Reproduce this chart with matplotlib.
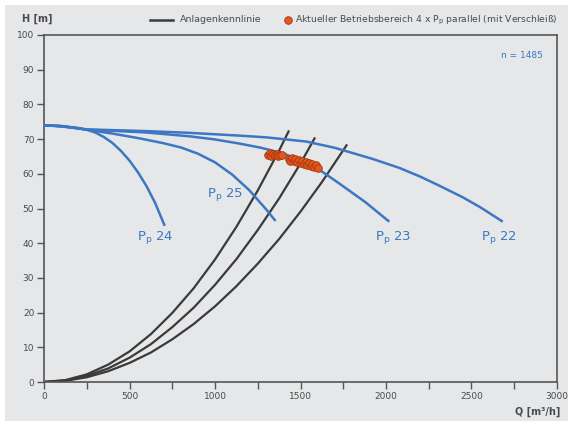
import matplotlib
matplotlib.use("Agg")
import matplotlib.pyplot as plt
from matplotlib.patches import Rectangle
from matplotlib.lines import Line2D

# ---- data ----
# system curves (Anlagenkennlinie)
sys_q = [0, 125, 250, 375, 500, 625, 750, 875, 1000, 1125, 1250, 1375, 1500, 1625, 1769]
sys1_h = [0, 0.55, 2.2, 5.0, 8.8, 13.8, 19.9, 27.0, 35.3, 44.7, 55.2, 66.7]
sys1_end = (1430, 72.2)
sys2_h = [0, 0.44, 1.75, 3.9, 7.0, 10.9, 15.8, 21.4, 28.0, 35.4, 43.8, 52.9, 63.0]
sys2_end = (1582, 70.2)
sys3_h = [0, 0.34, 1.36, 3.1, 5.5, 8.5, 12.3, 16.7, 21.8, 27.6, 34.1, 41.2, 49.1, 57.6, 68.2]

# pump curves
pp24_q = [0, 100, 200, 250, 300, 350, 400, 450, 500, 550, 600, 650, 706]
pp24_h = [74.0, 73.8, 73.2, 72.7, 71.9, 70.6, 68.9, 66.6, 63.8, 60.4, 56.4, 51.6, 45.0]
pp25_q = [0, 100, 200, 250, 400, 560, 700, 800, 900, 1000, 1100, 1200, 1300, 1354]
pp25_h = [74.0, 73.7, 73.1, 72.7, 71.6, 70.2, 68.8, 67.6, 65.8, 63.3, 59.8, 55.3, 49.7, 46.4]
pp23_q = [0, 100, 200, 250, 400, 600, 852, 1000, 1144, 1270, 1396, 1533, 1630, 1727, 1880, 2019]
pp23_h = [74.0, 73.7, 73.1, 72.7, 72.4, 71.9, 70.8, 69.9, 68.7, 67.5, 65.9, 63.3, 60.5, 57.2, 51.8, 46.2]
pp22_q = [0, 100, 200, 250, 600, 852, 1144, 1300, 1533, 1700, 1921, 2078, 2200, 2311, 2450, 2550, 2683]
pp22_h = [74.0, 73.7, 73.1, 72.8, 72.3, 71.8, 71.0, 70.5, 69.3, 67.5, 64.3, 61.7, 59.2, 56.6, 53.2, 50.4, 46.2]

pump_labels = ["P$_{\\mathrm{p}}$ 24", "P$_{\\mathrm{p}}$ 25", "P$_{\\mathrm{p}}$ 23", "P$_{\\mathrm{p}}$ 22"]
label_pos = [(650, 41.5), (1060, 54.0), (2040, 41.5), (2660, 41.5)]

# operating points
op_q = [1310, 1320, 1330, 1340, 1350, 1360, 1370, 1380, 1390,
        1430, 1440, 1450, 1460, 1470, 1480, 1490, 1500, 1510, 1520,
        1530, 1540, 1550, 1560, 1570, 1580, 1590, 1600]
op_h = [65.4, 65.9, 65.2, 65.7, 65.3, 65.8, 65.2, 65.5, 65.4,
        64.3, 63.6, 64.5, 63.8, 64.2, 63.5, 64.0, 63.2, 63.7, 62.8,
        63.3, 62.5, 63.0, 62.2, 62.7, 62.0, 62.4, 61.8]

x_ticks = [0, 500, 1000, 1500, 2000, 2500, 3000]
y_ticks = [0, 10, 20, 30, 40, 50, 60, 70, 80, 90, 100]

# ---- drawing ----
BG = "#e6e7e9"
BLUE = "#3b77c2"
DARK = "#3a3a3a"
TXT = "#4a4a4a"

plt.rcParams['font.family'] = ['DejaVu Sans']
fig = plt.figure(figsize=(5.68, 4.26), dpi=100)
fig.patch.set_facecolor("white")
bgrect = Rectangle((5/568, 5/426), 563/568, 416/426, transform=fig.transFigure,
                   facecolor=BG, edgecolor="none", zorder=-10)
fig.add_artist(bgrect)

ax = fig.add_axes([44/568, 44/426, 513/568, 347/426])
ax.set_zorder(1)
ax.set_facecolor(BG)
ax.set_xlim(0, 3000)
ax.set_ylim(0, 100)

lw_sys = 1.6
ax.plot(sys_q[:len(sys1_h)] + [sys1_end[0]], sys1_h + [sys1_end[1]], color=DARK, lw=lw_sys, zorder=2)
ax.plot(sys_q[:len(sys2_h)] + [sys2_end[0]], sys2_h + [sys2_end[1]], color=DARK, lw=lw_sys, zorder=2)
ax.plot(sys_q[:len(sys3_h)], sys3_h, color=DARK, lw=lw_sys, zorder=2)

for q, h in [(pp24_q, pp24_h), (pp25_q, pp25_h), (pp23_q, pp23_h), (pp22_q, pp22_h)]:
    ax.plot(q, h, color=BLUE, lw=1.8, zorder=3, solid_capstyle="butt", solid_joinstyle="round")

for lab, (x, y) in zip(pump_labels, label_pos):
    ax.text(x, y, lab, color=BLUE, fontsize=9.5, ha="center", va="center", zorder=4)

ax.scatter(op_q, op_h, s=30, color="#e2571e", edgecolor="#a8360c", linewidth=0.6, zorder=5)

ax.text(2915, 94, "n = 1485", color=BLUE, fontsize=6.5, ha="right", va="center")

ax.set_xticks(x_ticks)
ax.set_xticks([250, 750, 1250, 1750, 2250, 2750], minor=True)
ax.set_yticks(y_ticks)
ax.tick_params(axis="both", which="both", direction="out", length=5, width=1.0,
               color="#555555", labelsize=6.5, labelcolor=TXT, pad=2)
for s in ax.spines.values():
    s.set_color("#555555")
    s.set_linewidth(1.2)

fig.text(22/568, 1 - 19/426, "H [m]", fontsize=7, fontweight="bold", color=TXT, va="center", ha="left")
fig.text(560/568, 1 - 412/426, "Q [m³/h]", fontsize=7, fontweight="bold", color=TXT, va="center", ha="right")

# legend above plot
ly = 1 - 20/426
fig.add_artist(Line2D([150/568, 173/568], [ly] * 2, color=DARK, lw=1.8, transform=fig.transFigure))
fig.text(180/568, ly, "Anlagenkennlinie", fontsize=6.8, color=TXT, va="center", ha="left")
fig.add_artist(Line2D([288/568], [ly], marker="o", markersize=5.5, color="#e2571e",
                      markeredgecolor="#a8360c", markeredgewidth=0.6, transform=fig.transFigure))
fig.text(558/568, ly, "Aktueller Betriebsbereich 4 x P$_{\\mathrm{p}}$ parallel (mit Verschleiß)",
         fontsize=6.7, color=TXT, va="center", ha="right")

fig.savefig("out.png", dpi=100)
